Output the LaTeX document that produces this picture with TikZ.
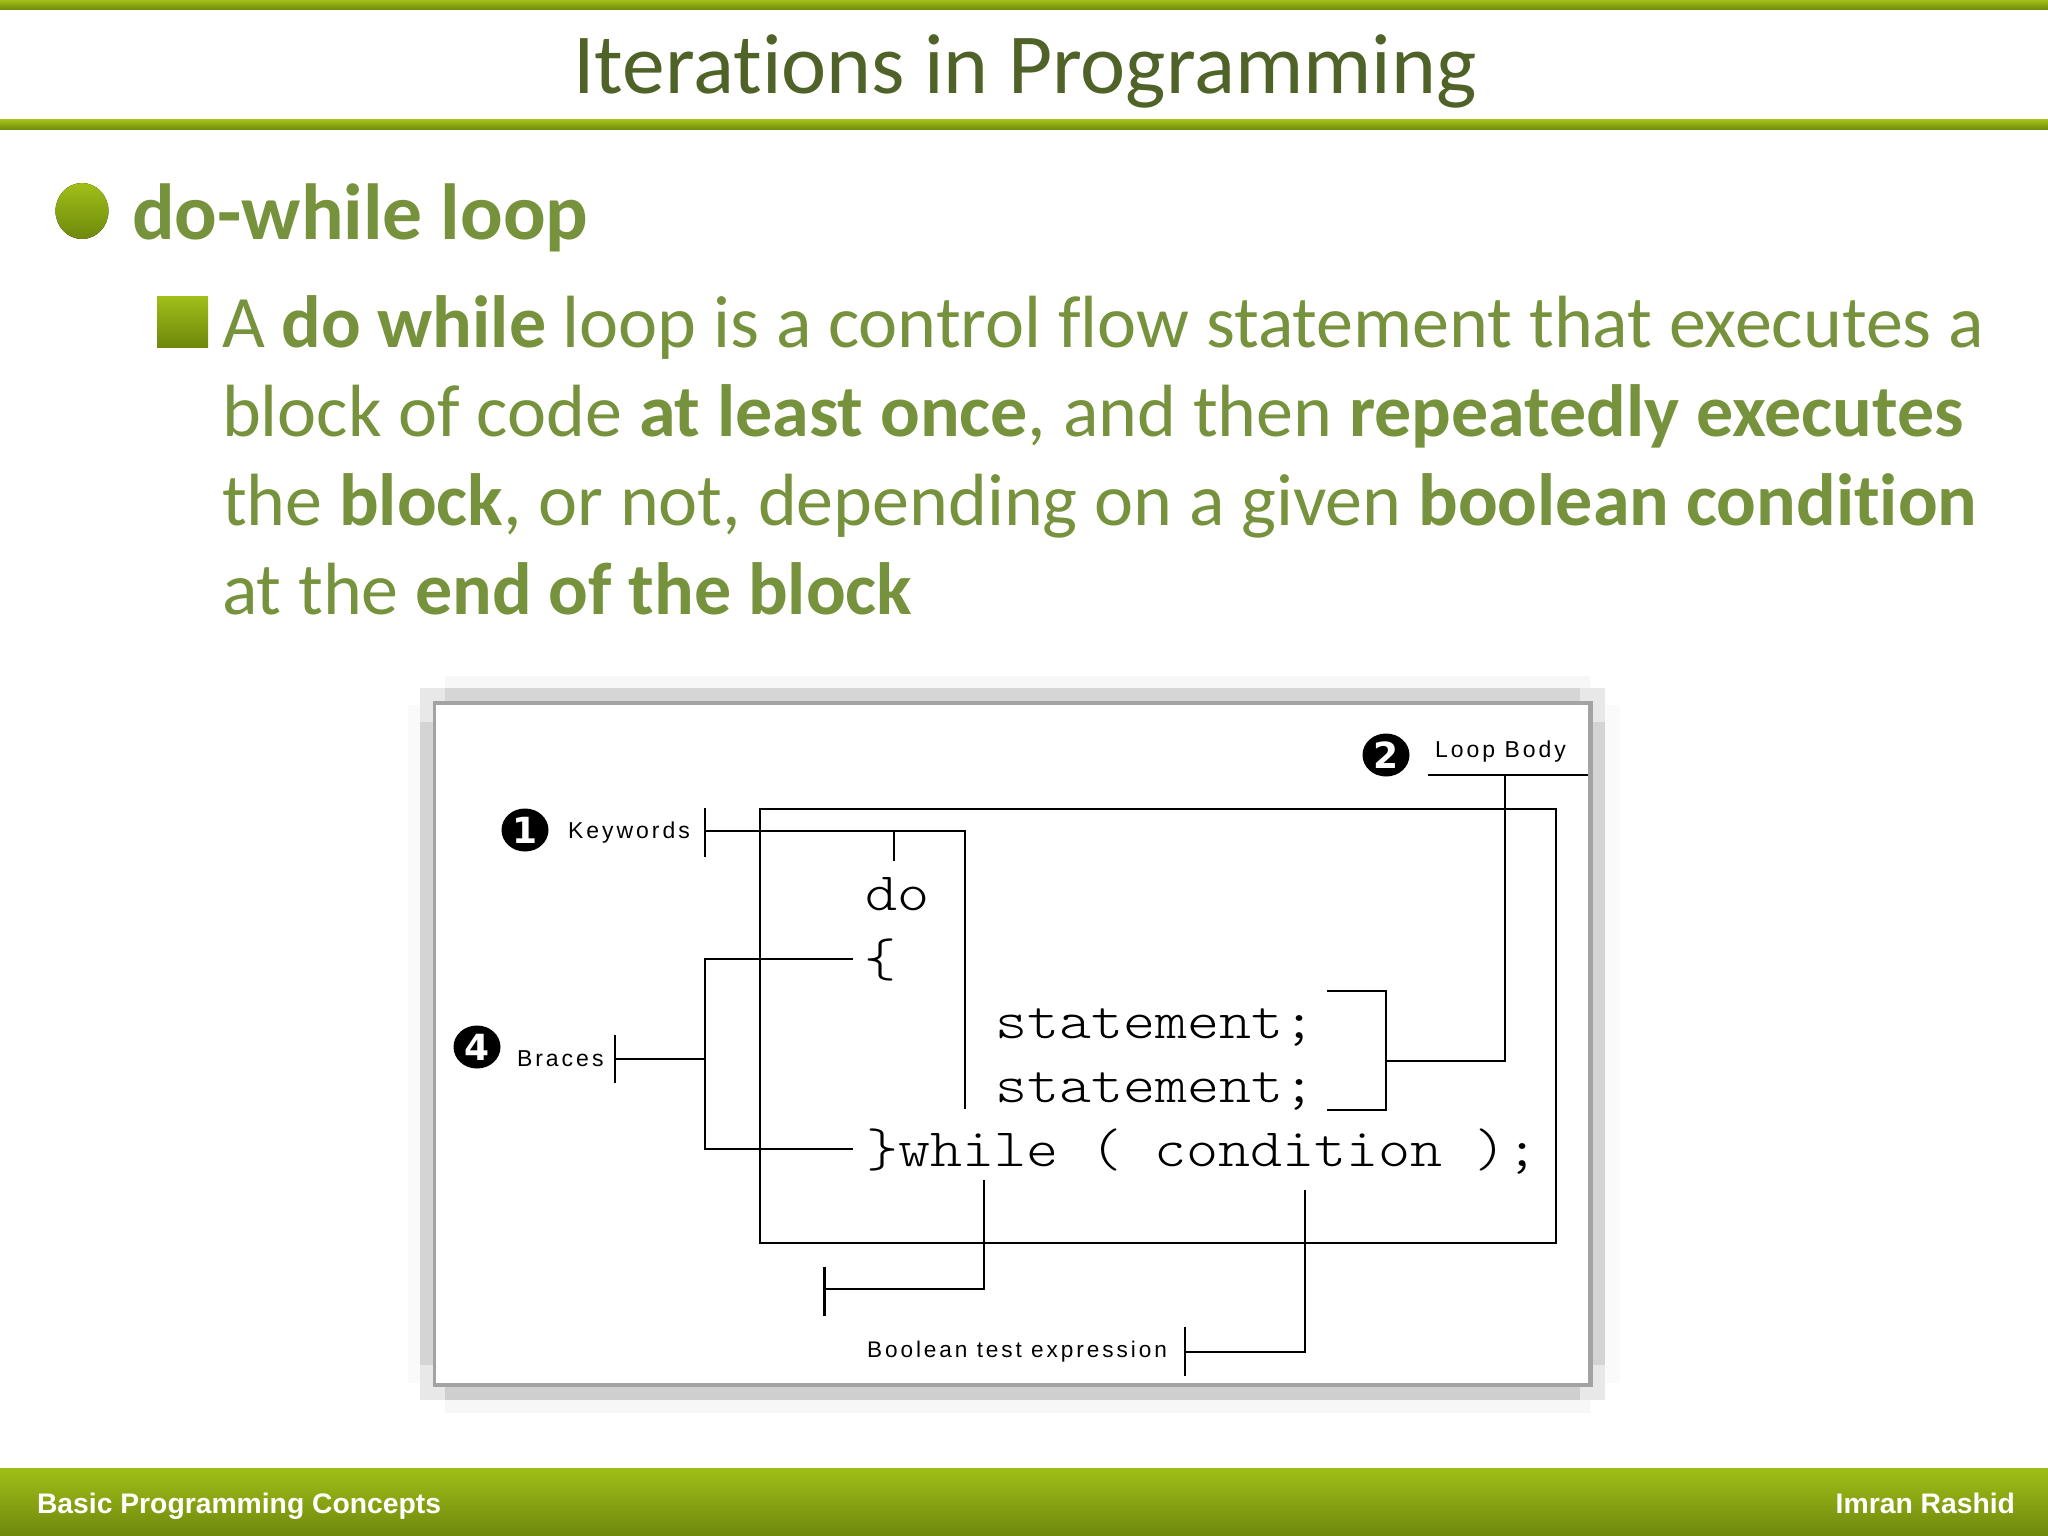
\documentclass[tikz,border=0pt]{standalone}
\usepackage{fontspec}
\usetikzlibrary{shapes.geometric}
\setmainfont[RawFeature={-liga;-dlig;-clig}]{Carlito}
\newfontfamily\codefont[FakeStretch=1.13]{Latin Modern Mono Light}
\newfontfamily\labfont[LetterSpace=13]{Liberation Sans}
\newfontfamily\footfont{Liberation Sans}
\newfontfamily\numfont{DejaVu Sans}
\definecolor{bandtop}{HTML}{A0BF18}
\definecolor{bandbot}{HTML}{6E880C}
\definecolor{bodygreen}{HTML}{76923C}
\definecolor{titlegreen}{HTML}{4F6228}
\tikzset{
  plain/.style={inner sep=0pt,outer sep=0pt,anchor=base west},
  titletext/.style={plain,anchor=base,text=titlegreen,font=\fontsize{85.5}{85.5}\selectfont},
  headtext/.style={plain,text=bodygreen,font=\fontsize{79.5}{79.5}\selectfont\bfseries},
  bodytext/.style={plain,text=bodygreen,font=\fontsize{74}{74}\selectfont},
  code/.style={plain,text=black,font=\fontsize{54}{54}\selectfont\codefont},
  lab/.style={plain,text=black,font=\fontsize{23}{23}\selectfont\labfont},
  foot/.style={plain,text=white,font=\fontsize{28.3}{28.3}\selectfont\footfont\bfseries},
  num/.style={ellipse,fill=black,text=white,minimum width=47pt,minimum height=43pt,inner sep=0pt,font=\fontsize{36}{36}\selectfont\numfont\bfseries},
  wire/.style={draw=black,line width=2.6pt},
}
\begin{document}
\begin{tikzpicture}[x=1pt,y=-1pt]
\useasboundingbox (0,0) rectangle (2048,1536);
% bands
\fill[top color=bandtop,bottom color=bandbot] (0,0) rectangle (2048,10);
\fill[top color=bandtop,bottom color=bandbot] (0,120) rectangle (2048,130);
\fill[top color=bandtop,bottom color=bandbot] (0,1468) rectangle (2048,1536);
\node[titletext] (title) at (1025,93.5) {Iterations in Programming};
% bullets
\fill[top color=bandtop,bottom color=bandbot] (82,211) ellipse (26.5 and 28);
\node[headtext] (head) at (132,239.5) {do-while loop};
\fill[top color=bandtop,bottom color=bandbot] (157,296) rectangle (208,347);
\node[bodytext] (l1) at (222,347.5) {A \textbf{do while} loop is a control flow statement that executes a};
\node[bodytext] (l2) at (222,436.5) {block of code \textbf{at least once}, and then \textbf{repeatedly executes}};
\node[bodytext] (l3) at (222,525.5) {the \textbf{block}, or not, depending on a given \textbf{boolean condition}};
\node[bodytext] (l4) at (222,614.5) {at the \textbf{end of the block}};
% frame: soft outer fade
\fill[black!3] (445,676) rectangle (1590,688);
\fill[black!3] (445,1400) rectangle (1590,1413);
\fill[black!2] (408,705) rectangle (420,1383);
\fill[black!2] (1605,705) rectangle (1620,1383);
% frame: lighter corners, then shadow strips
\fill[black!9] (420,688) rectangle (1605,1400);
\fill[black!16] (445,688) rectangle (1580,701);
\fill[black!19] (445,1387) rectangle (1580,1400);
\fill[black!17] (420,722) rectangle (433,1365);
\fill[black!17] (1593,722) rectangle (1605,1365);
\fill[black!36] (433,701) rectangle (1593,1387);
\fill[white] (436,705) rectangle (1588,1383);
% numbered badges and labels
\node[num] (n1) at (525,830) {1};
\node[num] (n2) at (1386,755) {2};
\node[num] (n4) at (477,1047) {4};
\node[lab] (kw) at (568,838) {Keywords};
\node[lab] (br) at (517,1066) {Braces};
\node[lab] (lb) at (1435,757) {Loop Body};
\node[lab,font=\fontsize{22.6}{22.6}\selectfont\labfont] (bt) at (867,1357) {Boolean test expression};
% code
\node[code] (do) at (865,910) {do};
\node[code] (ob) at (864,976) {\{};
\node[code] (s1) at (995,1038) {statement;};
\node[code] (s2) at (995,1102) {statement;};
\node[code] (wh) at (866,1166) {\}while ( condition );};
% coordinates of the callout lines
\coordinate (kt1) at (705,808); \coordinate (kt2) at (705,857); \coordinate (k0) at (705,831);
\coordinate (k1) at (965,831); \coordinate (k2) at (965,1109);
\coordinate (kb) at (894,831); \coordinate (kb2) at (894,861);
\coordinate (bt1) at (615,1035); \coordinate (bt2) at (615,1083); \coordinate (b0) at (615,1059);
\coordinate (b1) at (705,1059); \coordinate (bo) at (853,959); \coordinate (bc) at (853,1149);
\coordinate (loopa) at (1428,775); \coordinate (loopb) at (1588,775); \coordinate (loopj) at (1505,775);
\coordinate (sj) at (1386,1061); \coordinate (sa) at (1327,991); \coordinate (sb) at (1327,1110);
\coordinate (boxa) at (760,809); \coordinate (boxb) at (1556,1243);
\coordinate (wa) at (984,1180); \coordinate (wb) at (984,1289); \coordinate (wc) at (824.5,1289);
\coordinate (wt1) at (824.5,1267); \coordinate (wt2) at (824.5,1316);
\coordinate (ca) at (1305,1190); \coordinate (cb) at (1305,1352); \coordinate (cc) at (1185,1352);
\coordinate (ct1) at (1185,1327); \coordinate (ct2) at (1185,1376);
% callouts
\draw[wire] (boxa) rectangle (boxb);
\draw[wire] (kt1) -- (kt2);
\draw[wire] (k0) -- (k1) -- (k2);
\draw[wire] (kb) -- (kb2);
\draw[wire] (bt1) -- (bt2);
\draw[wire] (b0) -- (b1);
\draw[wire] (bo) -| (b1) |- (bc);
\draw[wire] (loopa) -- (loopb);
\draw[wire] (loopj) |- (sj);
\draw[wire] (sa) -| (sj) |- (sb);
\draw[wire] (wa) -- (wb) -- (wc);
\draw[wire] (wt1) -- (wt2);
\draw[wire] (ca) -- (cb) -- (cc);
\draw[wire] (ct1) -- (ct2);
% footer
\node[foot] (fl) at (37,1513) {Basic Programming Concepts};
\node[foot,anchor=base east] (fr) at (2015,1513) {Imran Rashid};
\end{tikzpicture}
\end{document}
